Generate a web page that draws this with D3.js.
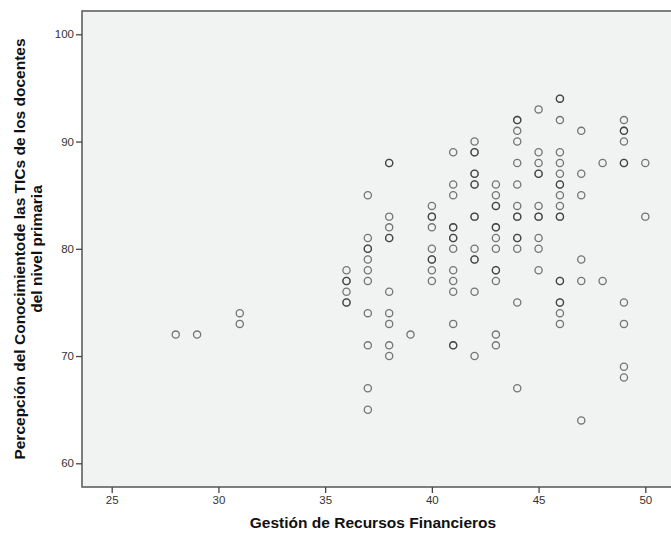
<!DOCTYPE html>
<html>
<head>
<meta charset="utf-8">
<script src="https://cdn.jsdelivr.net/npm/d3@7"></script>
<style>
body{margin:0;background:#fff;}
svg{display:block;font-family:"Liberation Sans",Arial,sans-serif;}
</style>
</head>
<body>
<svg id="chart"></svg>
<script>
// Gestión de Recursos Financieros (x) vs Percepción del Conocimiento (y)
var gestion=[28,29,31,31,
  36,36,36,36,36,36,
  37,37,37,37,37,37,37,37,37,37,37,
  38,38,38,38,38,38,38,38,38,38,38,
  39,
  40,40,40,40,40,40,40,40,40,
  41,41,41,41,41,41,41,41,41,41,41,41,41,41,
  42,42,42,42,42,42,42,42,42,42,42,42,42,42,
  43,43,43,43,43,43,43,43,43,43,43,43,43,
  44,44,44,44,44,44,44,44,44,44,44,44,44,44,
  45,45,45,45,45,45,45,45,45,45,45,
  46,46,46,46,46,46,46,46,46,46,46,46,46,46,46,46,46,46,
  47,47,47,47,47,47,
  48,48,
  49,49,49,49,49,49,49,49,49,49,
  50,50];
var percepcion=[72,72,74,73,
  78,77,77,76,75,75,
  85,81,80,80,79,78,77,74,71,67,65,
  88,88,83,82,81,81,76,74,73,71,70,
  72,
  84,83,83,82,80,79,79,78,77,
  89,86,85,82,82,81,81,80,78,77,76,73,71,71,
  90,89,89,87,87,86,86,83,83,80,79,79,76,70,
  86,85,84,84,82,82,81,80,78,78,77,72,71,
  92,92,91,90,88,86,84,83,83,81,81,80,75,67,
  93,89,88,87,87,84,83,83,81,80,78,
  94,94,92,89,88,87,86,86,85,84,83,83,77,77,75,75,74,73,
  91,87,85,79,77,64,
  88,77,
  92,91,91,90,88,88,75,73,69,68,
  88,83];
var xTicks=[25,30,35,40,45,50];
var yTicks=[60,70,80,90,100];

var w=671,h=536;
var plot={left:82,top:11,right:700,bottom:487};

var svg=d3.select("#chart").attr("width",w).attr("height",h);

var xScale=d3.scaleLinear().domain([25,50]).range([111.7,645.3]);
var yScale=d3.scaleLinear().domain([60,100]).range([463.3,34.3]);

svg.append("rect")
   .attr("x",plot.left).attr("y",plot.top)
   .attr("width",plot.right-plot.left).attr("height",plot.bottom-plot.top)
   .attr("fill","#f1f2f2")
   .attr("stroke","#555").attr("stroke-width",1.5);

var xAxis=d3.axisBottom(xScale).tickValues(xTicks).tickSize(6).tickPadding(3);
var yAxis=d3.axisLeft(yScale).tickValues(yTicks).tickSize(6).tickPadding(2);

var gx=svg.append("g")
   .attr("transform","translate(0,"+plot.bottom+")")
   .call(xAxis);
var gy=svg.append("g")
   .attr("transform","translate("+plot.left+",0)")
   .call(yAxis);
[gx,gy].forEach(function(g){
  g.select(".domain").remove();
  g.selectAll(".tick line").attr("stroke","#444").attr("stroke-width",1.3);
  g.selectAll(".tick text").attr("fill","#333").style("font-size","11.5px");
});

svg.append("g")
   .selectAll("circle")
   .data(gestion.map(function(d,i){return {x:d,y:percepcion[i]};}))
   .enter()
   .append("circle")
   .attr("cx",function(d){return xScale(d.x);})
   .attr("cy",function(d){return yScale(d.y);})
   .attr("r",3.6)
   .attr("fill","none")
   .attr("stroke","#222")
   .attr("stroke-opacity",0.6)
   .attr("stroke-width",1.3);

svg.append("text")
   .attr("x",(plot.left+664)/2)
   .attr("y",528)
   .attr("text-anchor","middle")
   .style("font-size","15.5px").style("font-weight","bold").attr("fill","#111")
   .text("Gestión de Recursos Financieros");

var yt=svg.append("text")
   .attr("transform","translate(20,"+((plot.top+plot.bottom)/2)+") rotate(-90)")
   .attr("text-anchor","middle")
   .style("font-size","15.5px").style("font-weight","bold").attr("fill","#111");
yt.append("tspan").attr("x",0).attr("dy","0.35em")
  .text("Percepción del Conocimientode las TICs de los docentes");
yt.append("tspan").attr("x",0).attr("dy","1.08em")
  .text("del nivel primaria");
</script>
</body>
</html>
